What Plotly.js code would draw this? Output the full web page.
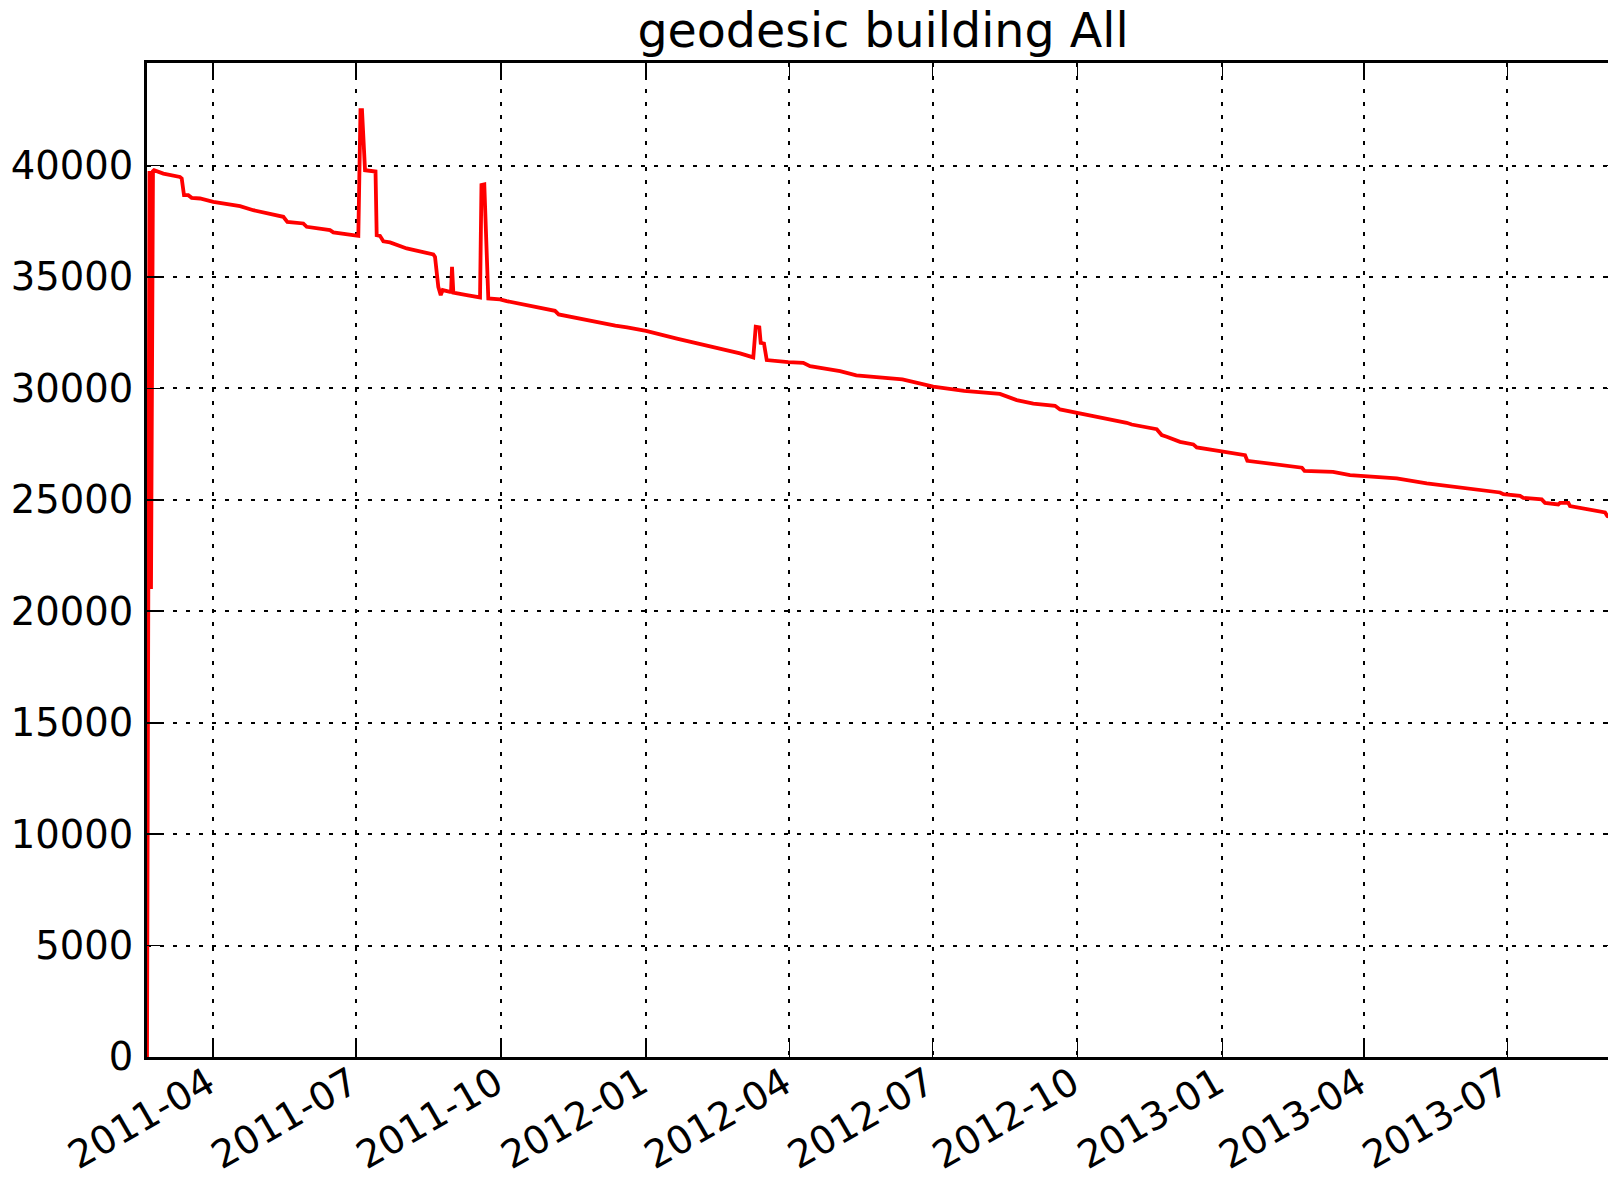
<!DOCTYPE html>
<html>
<head>
<meta charset="utf-8">
<script src="https://cdn.plot.ly/plotly-3.0.1.min.js"></script>
<style>
html, body { margin: 0; padding: 0; overflow: hidden; background: #ffffff; }
#chart { width: 1640px; height: 1180px; }
</style>
</head>
<body>
<div id="chart"></div>
<script>
// Dates of the readings
const dates = [
  "2011-02-18 02:00", "2011-02-19 16:00", "2011-02-20 15:00", "2011-02-21 21:00",
  "2011-02-22 13:00", "2011-02-28 11:00", "2011-03-11 00:00", "2011-03-12 03:00",
  "2011-03-13 14:00", "2011-03-16 07:00", "2011-03-18 11:00", "2011-03-23 18:00",
  "2011-04-01 05:00", "2011-04-11 19:00", "2011-04-18 04:00", "2011-04-26 14:00",
  "2011-05-09 07:00", "2011-05-15 16:00", "2011-05-18 05:00", "2011-05-28 08:00",
  "2011-05-30 12:00", "2011-06-04 18:00", "2011-06-14 07:00", "2011-06-16 10:00",
  "2011-07-02 07:00", "2011-07-03 16:00", "2011-07-04 15:00", "2011-07-06 13:00",
  "2011-07-13 05:00", "2011-07-13 23:00", "2011-07-16 01:00", "2011-07-18 04:00",
  "2011-07-22 10:00", "2011-08-02 00:00", "2011-08-09 09:00", "2011-08-18 22:00",
  "2011-08-20 00:00", "2011-08-22 02:00", "2011-08-23 15:00", "2011-08-24 21:00",
  "2011-08-29 12:00", "2011-08-30 04:00", "2011-08-30 19:00", "2011-08-31 15:00",
  "2011-09-09 03:00", "2011-09-17 14:00", "2011-09-18 12:00", "2011-09-20 07:00",
  "2011-09-22 20:00", "2011-09-30 06:00", "2011-10-04 12:00", "2011-10-21 10:00",
  "2011-11-01 00:00", "2011-11-04 05:00", "2011-11-06 12:00", "2011-11-11 20:00",
  "2011-11-25 00:00", "2011-12-12 12:00", "2011-12-20 00:00",
  "2012-01-01 00:00", "2012-01-20 14:00", "2012-02-09 02:00", "2012-02-17 00:00",
  "2012-02-29 17:00", "2012-03-09 03:00", "2012-03-10 16:00", "2012-03-12 23:00",
  "2012-03-13 20:00", "2012-03-15 22:00", "2012-03-17 16:00", "2012-03-31 08:00",
  "2012-04-09 21:00", "2012-04-14 04:00", "2012-05-03 05:00", "2012-05-13 13:00",
  "2012-06-11 20:00", "2012-07-01 09:00", "2012-07-20 23:00", "2012-08-12 18:00",
  "2012-08-23 10:00", "2012-09-02 23:00", "2012-09-16 18:00", "2012-09-19 22:00",
  "2012-09-28 09:00", "2012-10-11 01:00", "2012-11-01 06:00", "2012-11-04 11:00",
  "2012-11-20 08:00", "2012-11-23 12:00", "2012-11-26 16:00", "2012-12-05 03:00",
  "2012-12-13 14:00", "2012-12-15 18:00", "2012-12-30 13:00", "2013-01-15 10:00",
  "2013-01-16 21:00", "2013-01-24 23:00", "2013-02-04 13:00", "2013-02-19 08:00",
  "2013-02-20 14:00", "2013-02-22 05:00", "2013-03-12 07:00", "2013-03-23 02:00",
  "2013-03-31 23:00", "2013-04-21 18:00", "2013-05-10 19:00", "2013-06-05 05:00",
  "2013-06-26 09:00", "2013-06-28 11:00", "2013-07-09 01:00", "2013-07-11 04:00",
  "2013-07-22 20:00", "2013-07-24 22:00", "2013-07-31 07:00", "2013-08-02 09:00",
  "2013-08-03 11:00", "2013-08-08 18:00", "2013-08-09 19:00", "2013-08-22 12:00",
  "2013-09-01 01:00", "2013-09-02 12:00", "2013-09-07 09:00"
];

// Count values
const counts = [
  0, 39750, 21000, 39750,
  39790, 39640, 39490, 39420,
  38670, 38670, 38550, 38520,
  38370, 38265, 38175, 37995,
  37770, 37700, 37470, 37400,
  37250, 37200, 37100, 37000,
  36845, 42480, 42480, 39790,
  39730, 36875, 36845, 36600,
  36550, 36280, 36155, 36010,
  35900, 34555, 34185, 34410,
  34330, 34330, 35455, 34300,
  34185, 34080, 39120, 39150,
  34035, 33990, 33915, 33660,
  33540, 33480, 33320, 33240,
  33060, 32820, 32740,
  32580, 32235, 31910, 31790,
  31570, 31390, 32765, 32735,
  32045, 32015, 31270, 31180,
  31150, 31000, 30775, 30580,
  30400, 30075, 29890, 29750,
  29475, 29320, 29220, 29055,
  28950, 28755, 28455, 28380,
  28170, 27905, 27830, 27600,
  27485, 27350, 27185, 27005,
  26750, 26680, 26560, 26455,
  26440, 26300, 26255, 26110,
  26075, 25960, 25735, 25510,
  25330, 25255, 25180, 25090,
  25020, 24865, 24840, 24795,
  24865, 24865, 24720, 24540,
  24435, 24270, 24200
];

const yTickValues = [0, 5000, 10000, 15000, 20000, 25000, 30000, 35000, 40000];
const xRange = ["2011-02-18 02:00", "2013-09-09 22:00"];
const yRange = [0, 44600];
const titleText = "geodesic building All";

const font = "DejaVu Sans, Bitstream Vera Sans, Verdana, sans-serif";

const trace = {
  x: dates,
  y: counts,
  type: "scatter",
  mode: "lines",
  line: { color: "#ff0000", width: 3.8 },
  hoverinfo: "skip"
};

const axisCommon = {
  showline: true,
  linecolor: "#000000",
  linewidth: 3,
  mirror: "allticks",
  ticks: "inside",
  ticklen: 15,
  tickwidth: 1.6,
  tickcolor: "#000000",
  showgrid: true,
  gridcolor: "#000000",
  gridwidth: 2,
  griddash: "4px,9px",
  zeroline: false,
  tickfont: { family: font, size: 38.5, color: "#000000" }
};

const layout = {
  width: 1640,
  height: 1180,
  margin: { l: 147, r: 21, t: 63, b: 123, pad: 0 },
  paper_bgcolor: "#ffffff",
  plot_bgcolor: "#ffffff",
  showlegend: false,
  title: {
    text: titleText,
    font: { family: font, size: 47.5, color: "#000000" },
    xref: "paper",
    x: 0.5,
    xanchor: "center",
    yref: "container",
    y: 1 - 30 / 1180,
    yanchor: "middle"
  },
  xaxis: Object.assign({}, axisCommon, {
    type: "date",
    range: xRange,
    tick0: "2011-01-01",
    dtick: "M3",
    tickformat: "%Y-%m",
    tickangle: -30,
    ticklabelstandoff: -14,
    ticklabelshift: -5
  }),
  yaxis: Object.assign({}, axisCommon, {
    range: yRange,
    tickvals: yTickValues,
    ticktext: yTickValues.map(String),
    ticklabelstandoff: 3
  })
};

Plotly.newPlot("chart", [trace], layout, { displayModeBar: false, staticPlot: true });
</script>
</body>
</html>
